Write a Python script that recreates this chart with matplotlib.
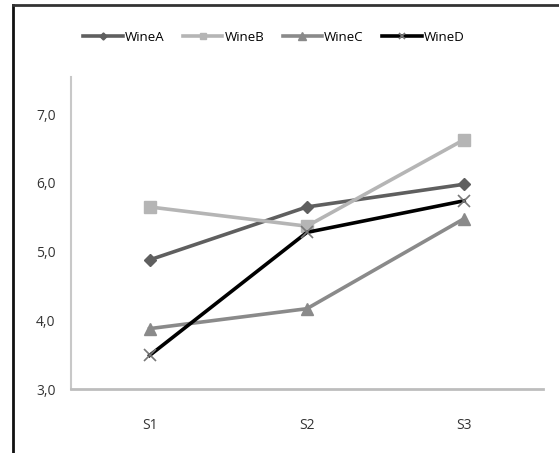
import matplotlib
matplotlib.use("Agg")
import matplotlib.pyplot as plt
from matplotlib.lines import Line2D

categories = ["S1", "S2", "S3"]
wine_a = [4.88, 5.65, 5.98]
wine_b = [5.65, 5.37, 6.63]
wine_c = [3.88, 4.17, 5.48]
wine_d = [3.49, 5.28, 5.74]
series_names = ["WineA", "WineB", "WineC", "WineD"]
y_ticks = [3.0, 4.0, 5.0, 6.0, 7.0]
y_tick_labels = ["3,0", "4,0", "5,0", "6,0", "7,0"]

plt.rcParams['font.family'] = ['Open Sans', 'DejaVu Sans']

fig = plt.figure(figsize=(5.59, 4.53), dpi=100)
ax = fig.add_axes([0.127, 0.141, 0.844, 0.689])

x = list(range(len(categories)))
styles = [
    dict(color="#5f5f5f", marker="D", markersize=6, lw=2.6),
    dict(color="#b5b5b5", marker="s", markersize=8, lw=2.6),
    dict(color="#8a8a8a", marker="^", markersize=9, lw=2.6),
    dict(color="#000000", marker="x", markersize=8, lw=2.6, markeredgecolor="#777777", markeredgewidth=1.2),
]
for vals, name, st in zip([wine_a, wine_b, wine_c, wine_d], series_names, styles):
    ax.plot(x, vals, label=name, **st)

ax.set_xlim(-0.5, 2.5)
ax.set_ylim(3.0, 7.54)
ax.set_xticks(x)
ax.set_xticklabels(categories, fontsize=10, color="#333333")
ax.set_yticks(y_ticks)
ax.set_yticklabels(y_tick_labels, fontsize=10, color="#333333")
ax.tick_params(axis='x', length=0, pad=21)
ax.tick_params(axis='y', length=0, pad=11)
for s in ["top", "right"]:
    ax.spines[s].set_visible(False)
ax.spines["left"].set_color("#c8c8c8")
ax.spines["bottom"].set_color("#bdbdbd")
ax.spines["left"].set_linewidth(1.5)
ax.spines["bottom"].set_linewidth(2.0)

leg = fig.legend(loc="center", bbox_to_anchor=(0.49, 0.918), ncol=4, frameon=False,
                 fontsize=9.5, handlelength=3.0, columnspacing=1.4, handletextpad=0.15,
                 markerscale=0.6)

# outer border (left and top)
fig.add_artist(Line2D([0.024, 0.024], [0, 0.99], transform=fig.transFigure, color="#111111", lw=2))
fig.add_artist(Line2D([0.024, 1.0], [0.99, 0.99], transform=fig.transFigure, color="#333333", lw=2))

fig.savefig("out.png", dpi=100)
